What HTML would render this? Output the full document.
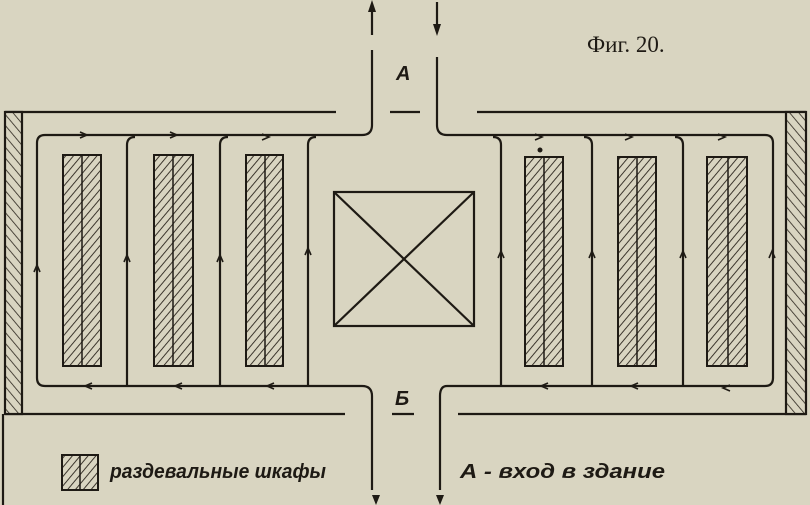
<!DOCTYPE html>
<html><head><meta charset="utf-8"><style>
html,body{margin:0;padding:0;background:#d9d5c1;}
svg{display:block}
</style></head><body>
<svg width="810" height="505" viewBox="0 0 810 505" xmlns="http://www.w3.org/2000/svg">
<defs>
<pattern id="h" width="6" height="6" patternUnits="userSpaceOnUse" patternTransform="rotate(40)">
<rect width="6" height="6" fill="#d9d5c1"/><line x1="0" y1="0" x2="0" y2="6" stroke="#2a241c" stroke-width="1.8"/>
</pattern>
<pattern id="h2" width="7" height="7" patternUnits="userSpaceOnUse" patternTransform="rotate(-40)">
<rect width="7" height="7" fill="#d9d5c1"/><line x1="0" y1="0" x2="0" y2="7" stroke="#2a241c" stroke-width="1.6"/>
</pattern>
</defs>
<rect width="810" height="505" fill="#d9d5c1"/>
<g stroke="#1e1a14" fill="none" stroke-width="2.2">
<line x1="5" y1="112" x2="336" y2="112"/>
<line x1="477" y1="112" x2="806" y2="112"/>
<line x1="390" y1="112" x2="420" y2="112"/>
<line x1="5" y1="414" x2="345" y2="414"/>
<line x1="458" y1="414" x2="806" y2="414"/>
<line x1="392" y1="414" x2="414" y2="414"/>
<line x1="3" y1="414" x2="3" y2="505"/>
<rect x="5" y="112" width="17" height="302" fill="url(#h2)"/>
<rect x="786" y="112" width="20" height="302" fill="url(#h2)"/>
<path d="M372 50 V125 Q372 135 362 135 H45 Q37 135 37 143 V378 Q37 386 45 386 H362 Q372 386 372 396 V490"/>
<path d="M437 57 V125 Q437 135 447 135 H765 Q773 135 773 143 V378 Q773 386 765 386 H447 Q440 386 440 396 V490"/>
<line x1="372" y1="35" x2="372" y2="5"/>
<line x1="437" y1="2" x2="437" y2="30"/>
<path d="M127 386 V145 Q127 137 135 137"/>
<path d="M220 386 V145 Q220 137 228 137"/>
<path d="M308 386 V145 Q308 137 316 137"/>
<path d="M501 386 V145 Q501 137 493 137"/>
<path d="M592 386 V145 Q592 137 584 137"/>
<path d="M683 386 V145 Q683 137 675 137"/>
<rect x="334" y="192" width="140" height="134"/>
<line x1="334" y1="192" x2="474" y2="326"/>
<line x1="474" y1="192" x2="334" y2="326"/>
</g>
<g stroke="#1e1a14" stroke-width="2" fill="url(#h)">
<rect x="63" y="155" width="38" height="211"/>
<rect x="154" y="155" width="39" height="211"/>
<rect x="246" y="155" width="37" height="211"/>
<rect x="525" y="157" width="38" height="209"/>
<rect x="618" y="157" width="38" height="209"/>
<rect x="707" y="157" width="40" height="209"/>
<rect x="62" y="455" width="36" height="35"/>
</g>
<g stroke="#1e1a14" stroke-width="1.5">
<line x1="82" y1="155" x2="82" y2="366"/><line x1="173" y1="155" x2="173" y2="366"/><line x1="265" y1="155" x2="265" y2="366"/>
<line x1="544" y1="157" x2="544" y2="366"/><line x1="637" y1="157" x2="637" y2="366"/><line x1="728" y1="157" x2="728" y2="366"/>
<line x1="80" y1="455" x2="80" y2="490"/>
</g>
<circle cx="540" cy="150" r="2.5" fill="#1e1a14"/>
<g fill="#1e1a14">
<path d="M372 0 l-4 12 h8z"/>
<path d="M437 36 l-4 -12 h8z"/>
<path d="M376 505 l-4 -10 h8z"/>
<path d="M440 505 l-4 -10 h8z"/>
</g>
<g stroke="#1e1a14" stroke-width="1.6" fill="none">
<path d="M80 132 l7 3 l-7 3"/><path d="M170 132 l7 3 l-7 3"/><path d="M262 134 l7 3 l-7 3"/>
<path d="M535 134 l7 3 l-7 3"/><path d="M625 134 l7 3 l-7 3"/><path d="M718 134 l7 3 l-7 3"/>
<path d="M92 383 l-7 3 l7 3"/><path d="M182 383 l-7 3 l7 3"/><path d="M274 383 l-7 3 l7 3"/>
<path d="M548 383 l-7 3 l7 3"/><path d="M638 383 l-7 3 l7 3"/><path d="M730 385 l-7 3 l7 3"/>
<path d="M34 272 l3 -7 l3 7"/><path d="M124 262 l3 -7 l3 7"/><path d="M217 262 l3 -7 l3 7"/><path d="M305 255 l3 -7 l3 7"/>
<path d="M498 258 l3 -7 l3 7"/><path d="M589 258 l3 -7 l3 7"/><path d="M680 258 l3 -7 l3 7"/><path d="M769 258 l3 -7 l3 7"/>
</g>
<g font-family="Liberation Sans, sans-serif" font-weight="bold" font-style="italic" fill="#1e1a14">
<text x="396" y="80" font-size="20">А</text>
<text x="395" y="405" font-size="20">Б</text>
<text x="110" y="478" font-size="20" textLength="216" lengthAdjust="spacingAndGlyphs">раздевальные шкафы</text>
<text x="460" y="478" font-size="20" textLength="205" lengthAdjust="spacingAndGlyphs">А - вход в здание</text>
</g>
<text x="587" y="52" font-family="Liberation Serif, serif" font-size="23" fill="#1e1a14">Фиг. 20.</text>
</svg>
</body></html>
